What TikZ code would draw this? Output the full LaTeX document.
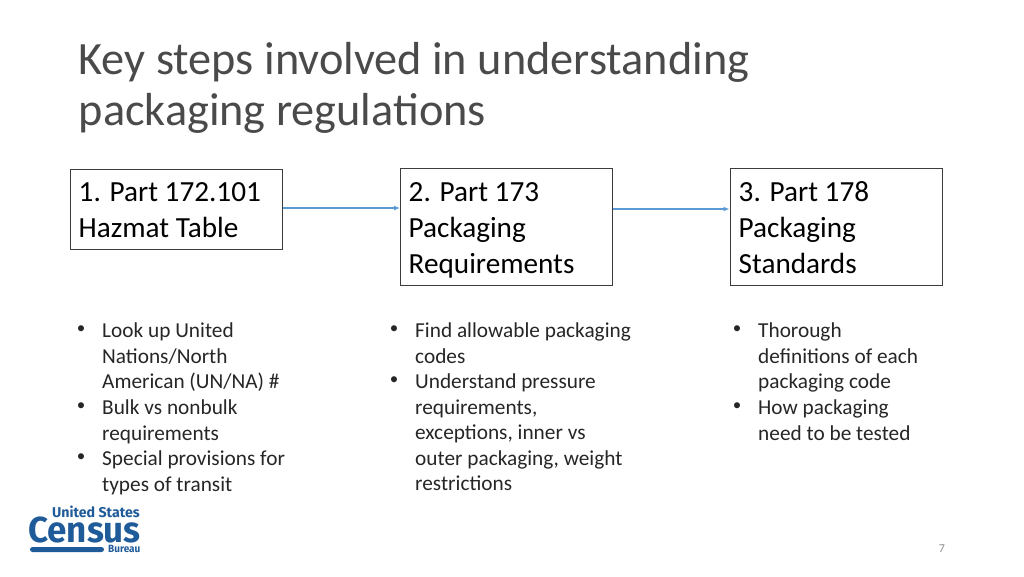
\documentclass[tikz,border=0pt]{standalone}
\usepackage{fontspec}
\setmainfont{Carlito}
\newfontfamily\logofont{Fira Sans}
\definecolor{titlegrey}{HTML}{4A4A4A}
\definecolor{bodygrey}{HTML}{262626}
\definecolor{boxline}{HTML}{3C3C3C}
\definecolor{arrowblue}{HTML}{5B9BD5}
\definecolor{censusblue}{HTML}{1F5A99}
\definecolor{pagegrey}{HTML}{8C8C8C}
\usetikzlibrary{arrows.meta}
\tikzset{
  x=1pt,y=-1pt,
  titletext/.style={anchor=north west,inner sep=0pt,align=left,text=titlegrey,font=\fontsize{46.3}{51}\selectfont},
  stepbox/.style={draw=boxline,line width=1pt,anchor=north west,inner sep=0pt},
  steptext/.style={anchor=north west,inner sep=0pt,align=left,text=black,font=\fontsize{29.2}{36}\selectfont},
  bullettext/.style={anchor=north west,inner sep=0pt,align=left,text=bodygrey,font=\fontsize{21.3}{25.6}\selectfont},
  dotmark/.style={anchor=center,inner sep=0pt,text=bodygrey,font=\fontsize{17}{20}\selectfont},
  flow/.style={draw=arrowblue,line width=1.2pt,-{Latex[length=6pt,width=5pt]}},
  logotext/.style={anchor=west,inner sep=0pt,text=censusblue},
}
\begin{document}
\begin{tikzpicture}
\useasboundingbox (0,0) rectangle (1024,576);
\node[titletext] (title) at (78.5,42) {Key steps involved in understanding\\packaging regulations};

\node[stepbox,minimum width=212pt,minimum height=80pt] (b1) at (70,169) {};
\node[stepbox,minimum width=212pt,minimum height=117pt] (b2) at (400,168) {};
\node[stepbox,minimum width=212pt,minimum height=117pt] (b3) at (729.5,168) {};
\node[steptext] (t1) at (78.5,182.5) {1. Part 172.101\\Hazmat Table};
\node[steptext] (t2) at (408.5,182) {2. Part 173\\Packaging\\Requirements};
\node[steptext] (t3) at (738.5,181.5) {3. Part 178\\Packaging\\Standards};
\draw[flow] (b1.east |- 0,208) coordinate (a1) -- (b2.west |- a1);
\draw[flow] (b2.east |- 0,209) coordinate (a2) -- (b3.west |- a2);

\node[dotmark] (d1) at (81,330) {•};
\node[bullettext] (l1) at (102,322.5) {Look up United\\Nations/North\\American (UN/NA) \#};
\node[dotmark] (d2) at (81,407) {•};
\node[bullettext] (l2) at (102,399.5) {Bulk vs nonbulk\\requirements};
\node[dotmark] (d3) at (81,458) {•};
\node[bullettext] (l3) at (102,450.5) {Special provisions for\\types of transit};

\node[dotmark] (d4) at (394,330) {•};
\node[bullettext] (m1) at (415,322.5) {Find allowable packaging\\codes};
\node[dotmark] (d5) at (394,381) {•};
\node[bullettext] (m2) at (415,373.5) {Understand pressure\\requirements,\\exceptions, inner vs\\outer packaging, weight\\restrictions};

\node[dotmark] (d6) at (737,330) {•};
\node[bullettext] (r1) at (758,322.5) {Thorough\\definitions of each\\packaging code};
\node[dotmark] (d7) at (737,407) {•};
\node[bullettext] (r2) at (758,399.5) {How packaging\\need to be tested};

\node[logotext,font=\logofont\fontsize{14.2}{15}\selectfont\bfseries] (lg1) at (52,512) {United States};
\node[logotext,font=\logofont\fontsize{38}{40}\selectfont\bfseries] (lg2) at (28,530) {\scalebox{.92}[.95]{Census}};
\node[logotext,font=\logofont\fontsize{10.5}{11}\selectfont\bfseries] (lg3) at (108,549) {\scalebox{.95}[1]{Bureau}};
\fill[censusblue,rounded corners=2.5pt] (30,547) rectangle (104,552);
\node[anchor=center,inner sep=0pt,text=pagegrey,font=\fontsize{12}{14}\selectfont] (pg) at (942,549) {7};
\end{tikzpicture}
\end{document}
